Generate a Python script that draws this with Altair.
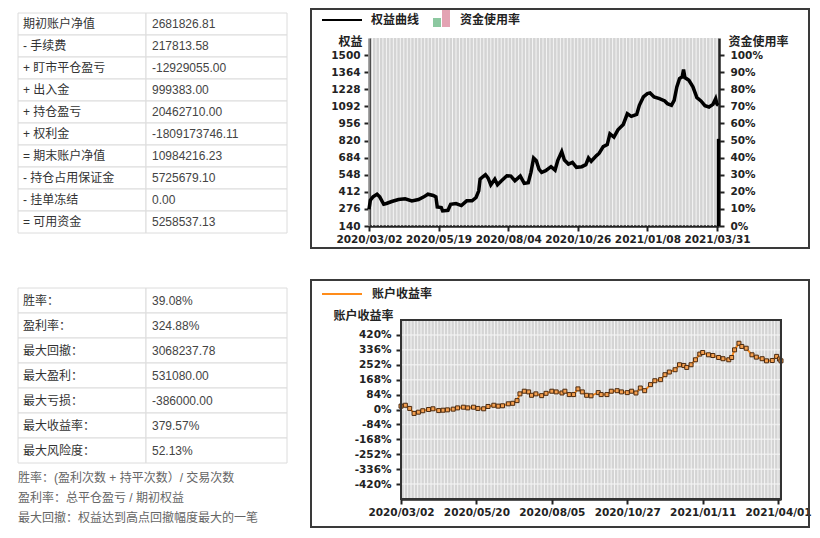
import altair as alt
import pandas as pd
import numpy as np

# ---------------- data ----------------
T1_LABELS = ["期初账户净值", "- 手续费", "+ 盯市平仓盈亏", "+ 出入金", "+ 持仓盈亏", "+ 权利金",
             "= 期末账户净值", "- 持仓占用保证金", "- 挂单冻结", "= 可用资金"]
T1_VALUES = ["2681826.81", "217813.58", "-12929055.00", "999383.00", "20462710.00", "-1809173746.11",
             "10984216.23", "5725679.10", "0.00", "5258537.13"]
T2_LABELS = ["胜率：", "盈利率：", "最大回撤：", "最大盈利：", "最大亏损：", "最大收益率：", "最大风险度："]
T2_VALUES = ["39.08%", "324.88%", "3068237.78", "531080.00", "-386000.00", "379.57%", "52.13%"]
NOTES = ["胜率：(盈利次数 + 持平次数）/ 交易次数",
         "盈利率：总平仓盈亏 / 期初权益",
         "最大回撤：权益达到高点回撤幅度最大的一笔"]

EQ_IDX = [0, 1, 3, 6, 8, 11, 13, 17, 22, 27, 32, 37, 41, 44, 48, 50, 51, 54, 55, 59, 61, 65, 69, 73, 77,
          80, 82, 83, 85, 87, 89, 91, 94, 96, 99, 103, 106, 109, 113, 116, 119, 121, 123, 125, 127, 129,
          132, 136, 139, 141, 144, 146, 149, 152, 155, 159, 162, 164, 166, 170, 172, 175, 178, 180, 183,
          186, 190, 193, 196, 200, 202, 205, 208, 210, 213, 217, 221, 223, 226, 228, 230, 232, 234, 235,
          236, 239, 242, 245, 248, 251, 254, 257, 259, 260, 261]
EQ_VAL = [273, 345, 372, 393, 372, 313, 319, 335, 351, 356, 340, 351, 372, 393, 383, 372, 292, 287, 260,
          265, 313, 319, 303, 340, 340, 367, 420, 513, 532, 548, 521, 468, 513, 468, 500, 540, 537, 500,
          537, 479, 484, 567, 681, 660, 593, 567, 580, 612, 585, 660, 732, 665, 633, 647, 607, 612, 628,
          681, 655, 700, 719, 772, 788, 873, 847, 905, 948, 1033, 1012, 1028, 1100, 1167, 1193, 1199,
          1167, 1153, 1135, 1113, 1100, 1140, 1247, 1313, 1327, 1385, 1321, 1300, 1247, 1161, 1135,
          1097, 1087, 1108, 1153, 1110, 1100]

USAGE_IDX = [261]
USAGE_VAL = [51]

RET_IDX = [0, 3, 6, 9, 12, 15, 19, 22, 26, 29, 32, 36, 39, 43, 46, 50, 53, 57, 60, 64, 67, 70, 74, 77,
           80, 82, 85, 88, 90, 93, 97, 100, 104, 107, 111, 113, 116, 119, 122, 125, 128, 131, 136, 138,
           142, 145, 149, 152, 156, 159, 162, 165, 168, 172, 175, 179, 182, 185, 189, 192, 195, 197, 200,
           203, 206, 208, 212, 215, 219, 222, 226, 228, 230, 233, 235, 238, 242, 245, 249, 252, 256, 259,
           261, 262]
RET_VAL = [19, 24, 6, -22, -15, -7, 0, 4, -6, -4, -2, 2, 9, 13, 9, 13, 6, 4, 17, 24, 19, 21, 32, 35, 50,
           88, 103, 99, 80, 88, 78, 91, 103, 99, 93, 103, 84, 84, 116, 99, 80, 77, 95, 84, 84, 103, 106,
           99, 95, 103, 93, 121, 106, 140, 162, 168, 196, 211, 224, 252, 248, 237, 252, 280, 312, 321,
           308, 304, 293, 286, 280, 293, 336, 373, 355, 345, 308, 295, 286, 274, 276, 299, 284, 274]

X_TICKS = [0, 52, 104, 156, 208, 260]
X1_LABELS = ["2020/03/02", "2020/05/19", "2020/08/04", "2020/10/26", "2021/01/08", "2021/03/31"]
X2_LABELS = ["2020/03/02", "2020/05/20", "2020/08/05", "2020/10/27", "2021/01/11", "2021/04/01"]
Y1_TICKS = [140, 276, 412, 548, 684, 820, 956, 1092, 1228, 1364, 1500]
Y1R_TICKS = [0, 10, 20, 30, 40, 50, 60, 70, 80, 90, 100]
Y2_TICKS = [-420, -336, -252, -168, -84, 0, 84, 168, 252, 336, 420]

# ---------------- style ----------------
DARK = "#222222"
FRAME = "#3a3a3a"
NUMF = "DejaVu Sans"
CJK = "Noto Sans CJK SC"
TABF = "Liberation Sans, Noto Sans CJK SC"
PLOTBG = "#d4d4d4"
NOVIEW = alt.ViewBackground(stroke="transparent", strokeOpacity=0, strokeWidth=0)
one = pd.DataFrame({"k": [0]})


def table(labels, values, row_h, top=0, width=269, split=128):
    n = len(labels)
    df = pd.DataFrame({"r": list(range(n)), "label": labels, "value": values})
    base = alt.Chart(df).transform_calculate(r1="datum.r + 1", rc="datum.r + 0.5")
    ysc = alt.Scale(domain=[0, n], range=[top, top + row_h * n], nice=False, zero=False)
    y0 = alt.Y("r:Q", axis=None, scale=ysc)
    yc = alt.Y("rc:Q", axis=None, scale=ysc)
    c1 = base.mark_rect(fill="white", stroke="#dcdcdc", strokeWidth=1).encode(
        y=y0, y2="r1:Q", x=alt.value(0), x2=alt.value(split))
    c2 = base.mark_rect(fill="white", stroke="#dcdcdc", strokeWidth=1).encode(
        y=y0, y2="r1:Q", x=alt.value(split), x2=alt.value(width))
    t1 = base.mark_text(align="left", baseline="middle", font=TABF, fontSize=12, color="#333333").encode(
        y=yc, x=alt.value(5), text="label:N")
    t2 = base.mark_text(align="left", baseline="middle", font=TABF, fontSize=12, color="#444444").encode(
        y=yc, x=alt.value(split + 6), text="value:N")
    return alt.layer(c1, c2, t1, t2).properties(width=width, height=top + row_h * n, view=NOVIEW)


# the first table is drawn 25px above its origin, which is aligned with the top plot's origin
tab1 = table(T1_LABELS, T1_VALUES, 22, top=-25)
tab2 = table(T2_LABELS, T2_VALUES, 25)
notes_df = pd.DataFrame({"r": list(range(len(NOTES))), "t": NOTES})
notes = alt.Chart(notes_df).mark_text(
    align="left", baseline="middle", font=TABF, fontSize=12, color="#666666"
).encode(
    y=alt.Y("r:O", axis=None, scale=alt.Scale(paddingInner=0, paddingOuter=0)),
    x=alt.value(0), text="t:N"
).properties(width=269, height=60, view=NOVIEW)

lower_left = alt.vconcat(tab2, notes, spacing=4)
left = alt.vconcat(tab1, lower_left, spacing=53)


def label_expr(labels):
    arr = ",".join("'%s'" % s for s in labels)
    return "[" + arr + "][round(datum.value/52)]"


axis_common = dict(domainColor=DARK, domainWidth=2.5, tickColor=DARK, tickWidth=2, tickSize=5,
                   labelFont=NUMF, labelFontSize=10.5, labelFontWeight="bold", labelColor=DARK,
                   grid=False)

# ---------------- chart 1 ----------------
W1, H1 = 350, 188
eq_df = pd.DataFrame({"i": EQ_IDX, "v": EQ_VAL})
us_df = pd.DataFrame({"i": USAGE_IDX, "u": USAGE_VAL, "u0": [0] * len(USAGE_IDX)})
stripe1 = pd.DataFrame({"i": np.arange(0, 262, 2.6)})

x1 = alt.X("i:Q", scale=alt.Scale(domain=[0, 261.5], nice=False, zero=False),
           axis=alt.Axis(values=X_TICKS, labelExpr=label_expr(X1_LABELS), title=None,
                         labelPadding=3, labelFlush=False, labelOverlap=False, **axis_common))

s1 = alt.Chart(stripe1).mark_rule(color="#f5f5f5", strokeWidth=1).encode(x=x1)
line1 = alt.Chart(eq_df).mark_line(color="black", strokeWidth=3.5).encode(
    x=x1,
    y=alt.Y("v:Q", scale=alt.Scale(domain=[140, 1636], nice=False, zero=False),
            axis=alt.Axis(orient="left", values=Y1_TICKS, format="d", title="权益", titleAngle=0,
                          titleAlign="right", titleBaseline="middle", titleX=-7, titleY=3, titleFont=CJK,
                          titleFontSize=12, titleFontWeight="bold", titleColor=DARK, labelPadding=4,
                          labelOverlap=False, **axis_common)))
use1 = alt.Chart(us_df).mark_rule(color="black", strokeWidth=3).encode(
    x=x1,
    y=alt.Y("u:Q", scale=alt.Scale(domain=[0, 110], nice=False, zero=False),
            axis=alt.Axis(orient="right", values=Y1R_TICKS, labelExpr="datum.value + '%'",
                          title="资金使用率", titleAngle=0, titleAlign="left", titleBaseline="middle",
                          titleX=9, titleY=3, titleFont=CJK, titleFontSize=12, titleFontWeight="bold",
                          titleColor=DARK, labelPadding=6, labelOverlap=False, **axis_common)),
    y2="u0:Q")
frame1 = alt.Chart(one).mark_rect(fill="white", fillOpacity=0, stroke=FRAME, strokeWidth=2).encode(
    x=alt.value(-58), x2=alt.value(440), y=alt.value(-29), y2=alt.value(210))
lg1a = alt.Chart(one).mark_rule(color="black", strokeWidth=2).encode(
    x=alt.value(-47), x2=alt.value(-7), y=alt.value(-18))
lg1b = alt.Chart(one).mark_text(text="权益曲线", align="left", baseline="middle", font=CJK, fontSize=12,
                                fontWeight="bold", color=DARK).encode(x=alt.value(2), y=alt.value(-18))
lg1c = alt.Chart(one).mark_rect(color="#8cc8a0").encode(
    x=alt.value(64), x2=alt.value(72), y=alt.value(-20), y2=alt.value(-11))
lg1d = alt.Chart(one).mark_rect(color="#e3a3b3").encode(
    x=alt.value(73), x2=alt.value(81), y=alt.value(-28), y2=alt.value(-11))
lg1e = alt.Chart(one).mark_text(text="资金使用率", align="left", baseline="middle", font=CJK, fontSize=12,
                                fontWeight="bold", color=DARK).encode(x=alt.value(91), y=alt.value(-18))

chart1 = alt.layer(s1, line1, use1, frame1, lg1a, lg1b, lg1c, lg1d, lg1e).resolve_scale(
    y="independent").properties(width=W1, height=H1,
                                view=alt.ViewBackground(fill=PLOTBG, strokeWidth=0))

# ---------------- chart 2 ----------------
# the view starts 32px left of the plot so that both charts share their left origin
SH = 32
W2, H2 = 380, 179
ret_df = pd.DataFrame({"i": RET_IDX, "r": RET_VAL})
stripe2 = pd.DataFrame({"i": np.arange(0, 262, 2.3)})
grid2 = pd.DataFrame({"r": Y2_TICKS})

x2 = alt.X("i:Q", scale=alt.Scale(domain=[0, 262], nice=False, zero=False, range=[SH, SH + W2]),
           axis=alt.Axis(values=X_TICKS, labelExpr=label_expr(X2_LABELS), title=None,
                         labelPadding=3, labelFlush=False, labelOverlap=False, **axis_common))
y2 = alt.Y("r:Q", scale=alt.Scale(domain=[-504, 504], nice=False, zero=False),
           axis=alt.Axis(orient="left", offset=-SH, values=Y2_TICKS, labelExpr="datum.value + '%'",
                         title="账户收益率", titleAngle=0, titleAlign="right", titleBaseline="middle",
                         titleX=-8, titleY=-5, titleFont=CJK, titleFontSize=12, titleFontWeight="bold",
                         titleColor=DARK, labelPadding=5, labelOverlap=False, **axis_common))

bg2 = alt.Chart(one).mark_rect(fill=PLOTBG).encode(
    x=alt.value(SH), x2=alt.value(SH + W2), y=alt.value(0), y2=alt.value(H2))
g2 = alt.Chart(grid2).mark_rule(color="#ececec", strokeWidth=1.5).encode(
    y=y2, x=alt.value(SH), x2=alt.value(SH + W2))
s2 = alt.Chart(stripe2).mark_rule(color="#f5f5f5", strokeWidth=1).encode(x=x2)
line2 = alt.Chart(ret_df).mark_line(color="#ff8c1a", strokeWidth=2).encode(x=x2, y=y2)
pts2 = alt.Chart(ret_df).mark_square(size=16, color="#f5a050", stroke="#4a2a10", strokeWidth=1,
                                     opacity=1).encode(x=x2, y=y2)
border2 = alt.Chart(one).mark_rect(fill="white", fillOpacity=0, stroke="#333333", strokeWidth=2).encode(
    x=alt.value(SH), x2=alt.value(SH + W2), y=alt.value(0), y2=alt.value(H2))
frame2 = alt.Chart(one).mark_rect(fill="white", fillOpacity=0, stroke=FRAME, strokeWidth=2).encode(
    x=alt.value(-58), x2=alt.value(440), y=alt.value(-40), y2=alt.value(207))
lg2a = alt.Chart(one).mark_rule(color="#ff8c1a", strokeWidth=2).encode(
    x=alt.value(-47), x2=alt.value(-7), y=alt.value(-26))
lg2b = alt.Chart(one).mark_text(text="账户收益率", align="left", baseline="middle", font=CJK, fontSize=12,
                                fontWeight="bold", color=DARK).encode(x=alt.value(3), y=alt.value(-26))

chart2 = alt.layer(bg2, g2, s2, line2, pts2, border2, frame2, lg2a, lg2b).properties(
    width=SH + W2, height=H2, view=NOVIEW)

right = alt.vconcat(chart1, chart2, spacing=30)

chart = alt.hconcat(left, right, spacing=22).properties(
    padding={"left": 9, "top": 0, "right": 0, "bottom": 0}
).configure_view(strokeWidth=0, stroke="transparent").configure(background="white")

chart.save("out.html", embed_options={"renderer": "svg", "actions": False})
